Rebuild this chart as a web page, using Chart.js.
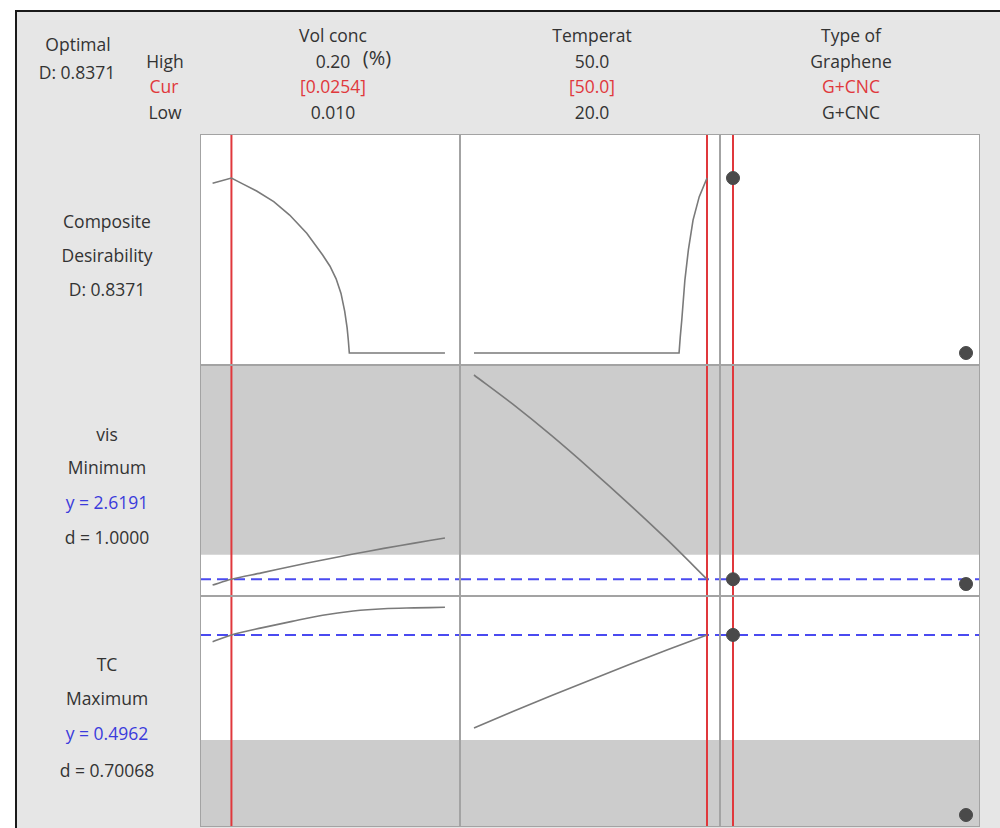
<!DOCTYPE html>
<html>
<head>
<meta charset="utf-8">
<script src="https://cdn.jsdelivr.net/npm/chart.js@4.4.1/dist/chart.umd.min.js"></script>
<style>
  body { margin: 0; background: #fff; font-family: "Open Sans", "Noto Sans", sans-serif; }
  #wrap { position: relative; width: 1000px; height: 828px; overflow: hidden; }
  #board { position: absolute; left: 15px; top: 10px; width: 985px; height: 818px;
           background: #e6e6e6; border-left: 2px solid #1a1a1a; border-top: 2px solid #1a1a1a; }
  .t { position: absolute; transform: translate(-50%, -50%); white-space: nowrap;
       font-size: 17.5px; color: #333; }
  canvas { position: absolute; background: #fff; }
</style>
</head>
<body>
<div id="wrap">
  <div id="board"></div>
</div>
<script>
// valori
const grapheneTypes = ['G+CNC', 'Graphene'];

// desirabilitate compusa
const concComposite = [0.010, 0.0254, 0.035, 0.046, 0.060, 0.073, 0.087, 0.100, 0.106, 0.111, 0.115, 0.118, 0.120, 0.121, 0.1218, 0.200];
const desirByConc = [0.812, 0.8371, 0.808, 0.775, 0.724, 0.660, 0.573, 0.469, 0.415, 0.355, 0.285, 0.200, 0.120, 0.060, 0, 0];
const tempComposite = [20, 46.4, 46.55, 46.75, 47.15, 47.6, 48.2, 49.0, 50];
const desirByTemp = [0, 0, 0.075, 0.158, 0.349, 0.493, 0.636, 0.748, 0.8371];
const desirByType = [0.8371, 0];

// vis si TC
const concGrid = [0.010, 0.0254, 0.050, 0.075, 0.100, 0.125, 0.150, 0.175, 0.200];
const visByConc = [2.537, 2.6191, 2.71, 2.805, 2.895, 2.98, 3.06, 3.135, 3.209];
const tcByConc = [0.4826, 0.4962, 0.5102, 0.5232, 0.5356, 0.5440, 0.5486, 0.5502, 0.5514];
const tempGrid = [20, 25, 30, 35, 40, 45, 50];
const visByTemp = [5.537, 5.12, 4.67, 4.19, 3.69, 3.17, 2.6191];
const tcByTemp = [0.310, 0.343, 0.375, 0.406, 0.437, 0.467, 0.4962];
const visByType = [2.6191, 2.551];
const tcByType = [0.4962, 0.136];

// setari curente si tinte
const curConc = 0.0254, curTemp = 50, curType = 'G+CNC';
const visTarget = 2.6191, tcTarget = 0.4962;
const visUpper = 2.97, tcLower = 0.286;

// texte
const board = document.getElementById('wrap');
function txt(s, x, y, color, size) {
    const d = document.createElement('div');
    d.className = 't';
    d.textContent = s;
    d.style.left = x + 'px';
    d.style.top = y + 'px';
    if (color) d.style.color = color;
    if (size) d.style.fontSize = size + 'px';
    board.appendChild(d);
}
const RED = '#e0383c', BLUE = '#3b3bdc';
txt('Optimal', 78, 44);
txt('D: 0.8371', 77, 72);
txt('High', 165, 61);
txt('Cur', 164, 86, RED);
txt('Low', 165, 112);
txt('Vol conc', 333, 35);
txt('0.20', 333, 61);
txt('(%)', 377, 57, null, 20);
txt('[0.0254]', 333, 86, RED);
txt('0.010', 333, 112);
txt('Temperat', 592, 35);
txt('50.0', 592, 61);
txt('[50.0]', 592, 86, RED);
txt('20.0', 592, 112);
txt('Type of', 851, 35);
txt('Graphene', 851, 61);
txt('G+CNC', 851, 86, RED);
txt('G+CNC', 851, 112);
txt('Composite', 107, 221);
txt('Desirability', 107, 255);
txt('D: 0.8371', 107, 289);
txt('vis', 107, 434);
txt('Minimum', 107, 467);
txt('y = 2.6191', 107, 502, BLUE);
txt('d = 1.0000', 107, 537);
txt('TC', 107, 664);
txt('Maximum', 107, 698);
txt('y = 0.4962', 107, 733, BLUE);
txt('d = 0.70068', 107, 770);

// grila de panouri
const colLeft = [200, 460, 720], rowTop = [134, 365, 596];
const panelW = 260, panelH = 231;
const colX = [{min: -0.0003, max: 0.2123}, {min: 18.2, max: 51.67}, {min: -0.0558, max: 1.06}];
const rowY = [{min: -0.0574, max: 1.0478}, {min: 2.38, max: 5.68}, {min: 0.112, max: 0.574}];
const typeIdx = grapheneTypes.map((_, i) => i);

const frame = {
    id: 'frame',
    afterDraw(chart) {
        const c = chart.ctx;
        c.save();
        c.strokeStyle = '#a3a3a3';
        c.lineWidth = 1;
        c.strokeRect(0.5, 0.5, chart.width - 1, chart.height - 1);
        c.restore();
    }
};

function pts(xs, ys) { return xs.map((x, i) => ({x: x, y: ys[i]})); }

function curve(xs, ys, tension) {
    return {data: pts(xs, ys), showLine: true, borderColor: '#7a7a7a', borderWidth: 1.6,
            pointRadius: 0, tension: tension, order: 1};
}
function dots(ys) {
    return {data: pts(typeIdx, ys), showLine: false, pointRadius: 6.5,
            backgroundColor: '#4a4a4a', borderColor: '#4a4a4a', order: 0};
}
function redLine(x, r) {
    return {data: [{x: x, y: rowY[r].min}, {x: x, y: rowY[r].max}], showLine: true,
            borderColor: RED, borderWidth: 2, pointRadius: 0, order: 2};
}
function blueLine(y, c) {
    return {data: [{x: colX[c].min, y: y}, {x: colX[c].max, y: y}], showLine: true,
            borderColor: '#4a4af0', borderWidth: 2, borderDash: [11, 6], pointRadius: 0, order: 3};
}
function shade(y, c, where) {
    return {data: [{x: colX[c].min, y: y}, {x: colX[c].max, y: y}], showLine: true,
            borderWidth: 0, borderColor: 'rgba(0,0,0,0)', backgroundColor: '#cccccc',
            fill: where, pointRadius: 0, order: 4};
}

const curX = [curConc, curTemp, grapheneTypes.indexOf(curType)];

function panel(r, c, sets) {
    const cv = document.createElement('canvas');
    cv.width = panelW;
    cv.height = panelH;
    cv.style.left = colLeft[c] + 'px';
    cv.style.top = rowTop[r] + 'px';
    board.appendChild(cv);
    sets.push(redLine(curX[c], r));
    if (r === 1) { sets.push(shade(visUpper, c, 'end')); sets.push(blueLine(visTarget, c)); }
    if (r === 2) { sets.push(shade(tcLower, c, 'start')); sets.push(blueLine(tcTarget, c)); }
    new Chart(cv.getContext('2d'), {
        type: 'scatter',
        data: {datasets: sets},
        options: {
            responsive: false,
            animation: false,
            devicePixelRatio: 1,
            layout: {padding: 0, autoPadding: false},
            scales: {
                x: {type: 'linear', min: colX[c].min, max: colX[c].max, display: false},
                y: {type: 'linear', min: rowY[r].min, max: rowY[r].max, display: false}
            },
            plugins: {legend: {display: false}, tooltip: {enabled: false}}
        },
        plugins: [frame]
    });
}

panel(0, 0, [curve(concComposite, desirByConc, 0)]);
panel(0, 1, [curve(tempComposite, desirByTemp, 0)]);
panel(0, 2, [dots(desirByType)]);
panel(1, 0, [curve(concGrid, visByConc, 0.3)]);
panel(1, 1, [curve(tempGrid, visByTemp, 0.3)]);
panel(1, 2, [dots(visByType)]);
panel(2, 0, [curve(concGrid, tcByConc, 0.3)]);
panel(2, 1, [curve(tempGrid, tcByTemp, 0.3)]);
panel(2, 2, [dots(tcByType)]);
</script>
</body>
</html>
